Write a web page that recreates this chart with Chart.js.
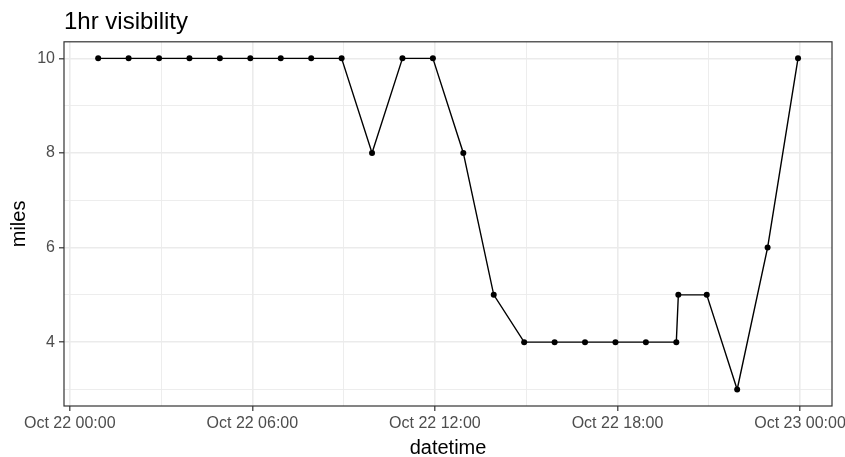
<!DOCTYPE html>
<html>
<head>
<meta charset="utf-8">
<script src="https://cdn.jsdelivr.net/npm/chart.js@4.4.1/dist/chart.umd.min.js"></script>
<style>
  html, body { margin: 0; padding: 0; background: #fff; }
  #wrap { width: 845px; height: 457px; }
</style>
</head>
<body>
<div id="wrap"><canvas id="canvas"></canvas></div>
<script>
// observation times on Oct 22 (hh:mm)
const obsTimes = ['00:56', '01:56', '02:56', '03:56', '04:56', '05:56', '06:56', '07:56',
  '08:56', '09:56', '10:56', '11:56', '12:56', '13:56', '14:56', '15:56', '16:56',
  '17:56', '18:56', '19:56', '20:00', '20:56', '21:56', '22:56', '23:56'];
// visibility in miles
const visibility = [10, 10, 10, 10, 10, 10, 10, 10, 10, 8, 10, 10, 8, 5, 4, 4, 4, 4, 4, 4, 5, 5, 3, 6, 10];

// tick marks
const xTickHours = [0, 6, 12, 18, 24];
const xTickLabels = ['Oct 22 00:00', 'Oct 22 06:00', 'Oct 22 12:00', 'Oct 22 18:00', 'Oct 23 00:00'];
const xMinorHours = [3, 9, 15, 21];
const yTicks = [4, 6, 8, 10];
const yMinor = [3, 5, 7, 9];

// hh:mm -> hours since Oct 22 00:00
const toHours = (s) => {
  const [h, m] = s.split(':').map(Number);
  return h + m / 60;
};

const puntos = obsTimes.map((t, i) => ({ x: toHours(t), y: visibility[i] }));

const isMajorX = (v) => xTickHours.includes(v);
const isMajorY = (v) => yTicks.includes(v);

// caja del panel (estilo theme_bw) y titulo alineado al panel
const panelPlugin = {
  id: 'panel',
  afterLayout(chart) {
    if (chart.titleBlock) chart.titleBlock.left = chart.chartArea.left;
  },
  afterDatasetsDraw(chart) {
    const { ctx, chartArea: a } = chart;
    ctx.save();
    ctx.strokeStyle = '#333333';
    ctx.lineWidth = 1.2;
    ctx.strokeRect(a.left, a.top, a.right - a.left, a.bottom - a.top);
    ctx.restore();
  }
};

Chart.defaults.font.family = '"Liberation Sans", Arial, sans-serif';

const grafico = document.getElementById('canvas');

new Chart(grafico, {
  type: 'line',
  data: {
    datasets: [{
      label: 'visibility',
      data: puntos,
      borderColor: '#000',
      backgroundColor: '#000',
      borderWidth: 1.4,
      pointRadius: 3,
      pointHoverRadius: 3,
      pointBorderWidth: 0,
      tension: 0,
      clip: false,
    }],
  },
  options: {
    responsive: true,
    maintainAspectRatio: false,
    animation: false,
    events: [],
    layout: { padding: { left: 0, right: 13, top: 0, bottom: 0 } },
    plugins: {
      legend: { display: false },
      tooltip: { enabled: false },
      title: {
        display: true,
        text: '1hr visibility',
        align: 'start',
        color: '#000',
        font: { size: 24, weight: 'normal' },
        padding: { top: 8, bottom: 5 },
      },
    },
    scales: {
      x: {
        type: 'linear',
        min: -0.19,
        max: 25.05,
        afterBuildTicks: (scale) => {
          scale.ticks = [...xTickHours, ...xMinorHours].sort((a, b) => a - b).map(v => ({ value: v }));
        },
        afterFit: (scale) => {
          scale.paddingLeft = 0;
          scale.paddingRight = 0;
          scale.height = 51;
        },
        ticks: {
          autoSkip: false,
          maxRotation: 0,
          padding: 3,
          color: '#4d4d4d',
          font: { size: 16 },
          callback: (v) => {
            const i = xTickHours.indexOf(v);
            return i >= 0 ? xTickLabels[i] : '';
          },
        },
        grid: {
          color: '#ebebeb',
          lineWidth: (c) => (c.tick && isMajorX(c.tick.value) ? 1.6 : 0.9),
          tickColor: (c) => (c.tick && isMajorX(c.tick.value) ? '#333333' : 'rgba(0,0,0,0)'),
          tickLength: 5,
          tickWidth: 1.2,
          drawTicks: true,
        },
        border: { display: false },
        title: {
          display: true,
          text: 'datetime',
          color: '#000',
          font: { size: 20 },
          padding: { top: 0, bottom: -3 },
        },
      },
      y: {
        type: 'linear',
        min: 2.65,
        max: 10.35,
        afterBuildTicks: (scale) => {
          scale.ticks = [...yMinor, ...yTicks].sort((a, b) => a - b).map(v => ({ value: v }));
        },
        afterFit: (scale) => {
          scale.width = 64;
        },
        ticks: {
          autoSkip: false,
          padding: 4,
          color: '#4d4d4d',
          font: { size: 16 },
          callback: (v) => (isMajorY(v) ? String(v) : ''),
        },
        grid: {
          color: '#ebebeb',
          lineWidth: (c) => (c.tick && isMajorY(c.tick.value) ? 1.6 : 0.9),
          tickColor: (c) => (c.tick && isMajorY(c.tick.value) ? '#333333' : 'rgba(0,0,0,0)'),
          tickLength: 5,
          tickWidth: 1.2,
          drawTicks: true,
        },
        border: { display: false },
        title: {
          display: true,
          text: 'miles',
          color: '#000',
          font: { size: 20 },
          padding: { top: 7, bottom: 0 },
        },
      },
    },
  },
  plugins: [panelPlugin],
});
</script>
</body>
</html>
